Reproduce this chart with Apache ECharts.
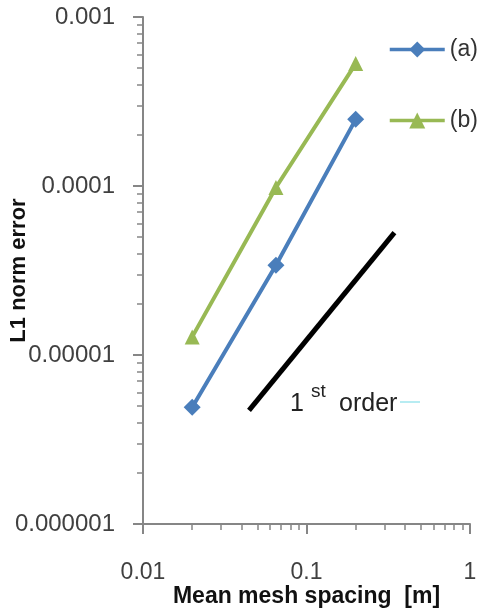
<!DOCTYPE html>
<html>
<head>
<meta charset="utf-8">
<script src="https://cdn.jsdelivr.net/npm/echarts@6/dist/echarts.min.js"></script>
<style>
html,body{margin:0;padding:0;background:#fff;}
#chart{width:479px;height:608px;}
</style>
</head>
<body>
<div id="chart"></div>
<script>
// ---- data ----
const meshSpacing = [0.02, 0.065, 0.2];
const errorA = [4.9e-6, 3.4e-5, 2.48e-4];
const errorB = [1.28e-5, 9.8e-5, 5.3e-4];
const refX = [0.0445, 0.345];
const refY = [4.7e-6, 5.3e-5];
const seriesNames = ['(a)', '(b)'];
const xDecades = [-2, -1];          // decades for minor ticks on x
const yDecades = [-6, -5, -4];      // decades for minor ticks on y
const minorMultipliers = [2, 3, 4, 5, 6, 7, 8, 9];
const xRange = [0.01, 1];
const yRange = [0.000001, 0.001];

const pair = (xs, ys) => xs.map((x, i) => [x, ys[i]]);
const minorLog = decs => decs.flatMap(d => minorMultipliers.map(m => Math.log10(m) + d));
const fmt = v => { const d = Math.round(-Math.log10(v)); return d > 0 ? v.toFixed(d) : String(Math.round(v)); };

const FONT = 'Liberation Sans';
const axisGray = '#868686';

const chart = echarts.init(document.getElementById('chart'));
chart.setOption({
  animation: false,
  backgroundColor: '#fff',
  textStyle: { fontFamily: FONT },
  grid: { left: 143, right: 9, top: 17, bottom: 84, containLabel: false, outerBoundsMode: 'none' },
  legend: {
    data: seriesNames,
    orient: 'vertical',
    left: 388, top: 38, padding: 0,
    itemWidth: 55, itemHeight: 20, itemGap: 48,
    selectedMode: false,
    lineStyle: { width: 3.5 },
    textStyle: { fontSize: 23, color: '#333', fontFamily: FONT }
  },
  xAxis: [
    {
      type: 'log', logBase: 10, min: xRange[0], max: xRange[1],
      name: 'Mean mesh spacing  [m]', nameLocation: 'middle', nameGap: 61, nameMoveOverlap: false,
      nameTextStyle: { fontSize: 23, fontWeight: 'bold', color: '#111', fontFamily: FONT },
      axisLine: { show: true, onZero: false, lineStyle: { color: axisGray, width: 2 } },
      axisTick: { show: true, inside: false, length: 10, lineStyle: { color: axisGray, width: 2 } },
      axisLabel: { margin: 37, fontSize: 23, color: '#404040', formatter: fmt },
      splitLine: { show: false }, minorTick: { show: false }
    },
    {
      type: 'value', min: Math.log10(xRange[0]), max: Math.log10(xRange[1]), position: 'bottom',
      axisLine: { show: false, onZero: false }, axisLabel: { show: false }, splitLine: { show: false },
      axisTick: { show: true, inside: false, length: 6, customValues: minorLog(xDecades), lineStyle: { color: axisGray, width: 1.5 } }
    }
  ],
  yAxis: [
    {
      type: 'log', logBase: 10, min: yRange[0], max: yRange[1], position: 'left',
      name: 'L1 norm error', nameLocation: 'middle', nameGap: 113, nameRotate: 90, nameMoveOverlap: false,
      nameTextStyle: { fontSize: 22, fontWeight: 'bold', color: '#111', fontFamily: FONT },
      axisLine: { show: true, onZero: false, lineStyle: { color: axisGray, width: 2 } },
      axisTick: { show: true, inside: false, length: 10, lineStyle: { color: axisGray, width: 2 } },
      axisLabel: { margin: 28, fontSize: 24, color: '#404040', formatter: fmt },
      splitLine: { show: false }, minorTick: { show: false }
    },
    {
      type: 'value', min: Math.log10(yRange[0]), max: Math.log10(yRange[1]), position: 'left',
      axisLine: { show: false, onZero: false }, axisLabel: { show: false }, splitLine: { show: false },
      axisTick: { show: true, inside: false, length: 6, customValues: minorLog(yDecades), lineStyle: { color: axisGray, width: 1.5 } }
    }
  ],
  series: [
    {
      name: seriesNames[0], type: 'line', xAxisIndex: 0, yAxisIndex: 0,
      data: pair(meshSpacing, errorA),
      symbol: 'diamond', symbolSize: 17,
      lineStyle: { color: '#4A7EBB', width: 4 },
      itemStyle: { color: '#4A7EBB' }
    },
    {
      name: seriesNames[1], type: 'line', xAxisIndex: 0, yAxisIndex: 0,
      data: pair(meshSpacing, errorB),
      symbol: 'triangle', symbolSize: 15,
      lineStyle: { color: '#98B954', width: 4 },
      itemStyle: { color: '#98B954' }
    },
    {
      name: 'ref', type: 'line', xAxisIndex: 0, yAxisIndex: 0,
      data: pair(refX, refY),
      symbol: 'none',
      lineStyle: { color: '#000', width: 5 }
    }
  ],
  graphic: [
    { type: 'text', left: 290, top: 392, style: { text: '1', fontSize: 25, fill: '#222', fontFamily: FONT } },
    { type: 'text', left: 311, top: 382, style: { text: 'st', fontSize: 19, fill: '#222', fontFamily: FONT } },
    { type: 'text', left: 339, top: 392, style: { text: 'order', fontSize: 25, fill: '#222', fontFamily: FONT } },
    { type: 'line', shape: { x1: 400, y1: 402, x2: 420, y2: 402 }, style: { stroke: '#9fe6ee', lineWidth: 1.5 } }
  ]
});
</script>
</body>
</html>
